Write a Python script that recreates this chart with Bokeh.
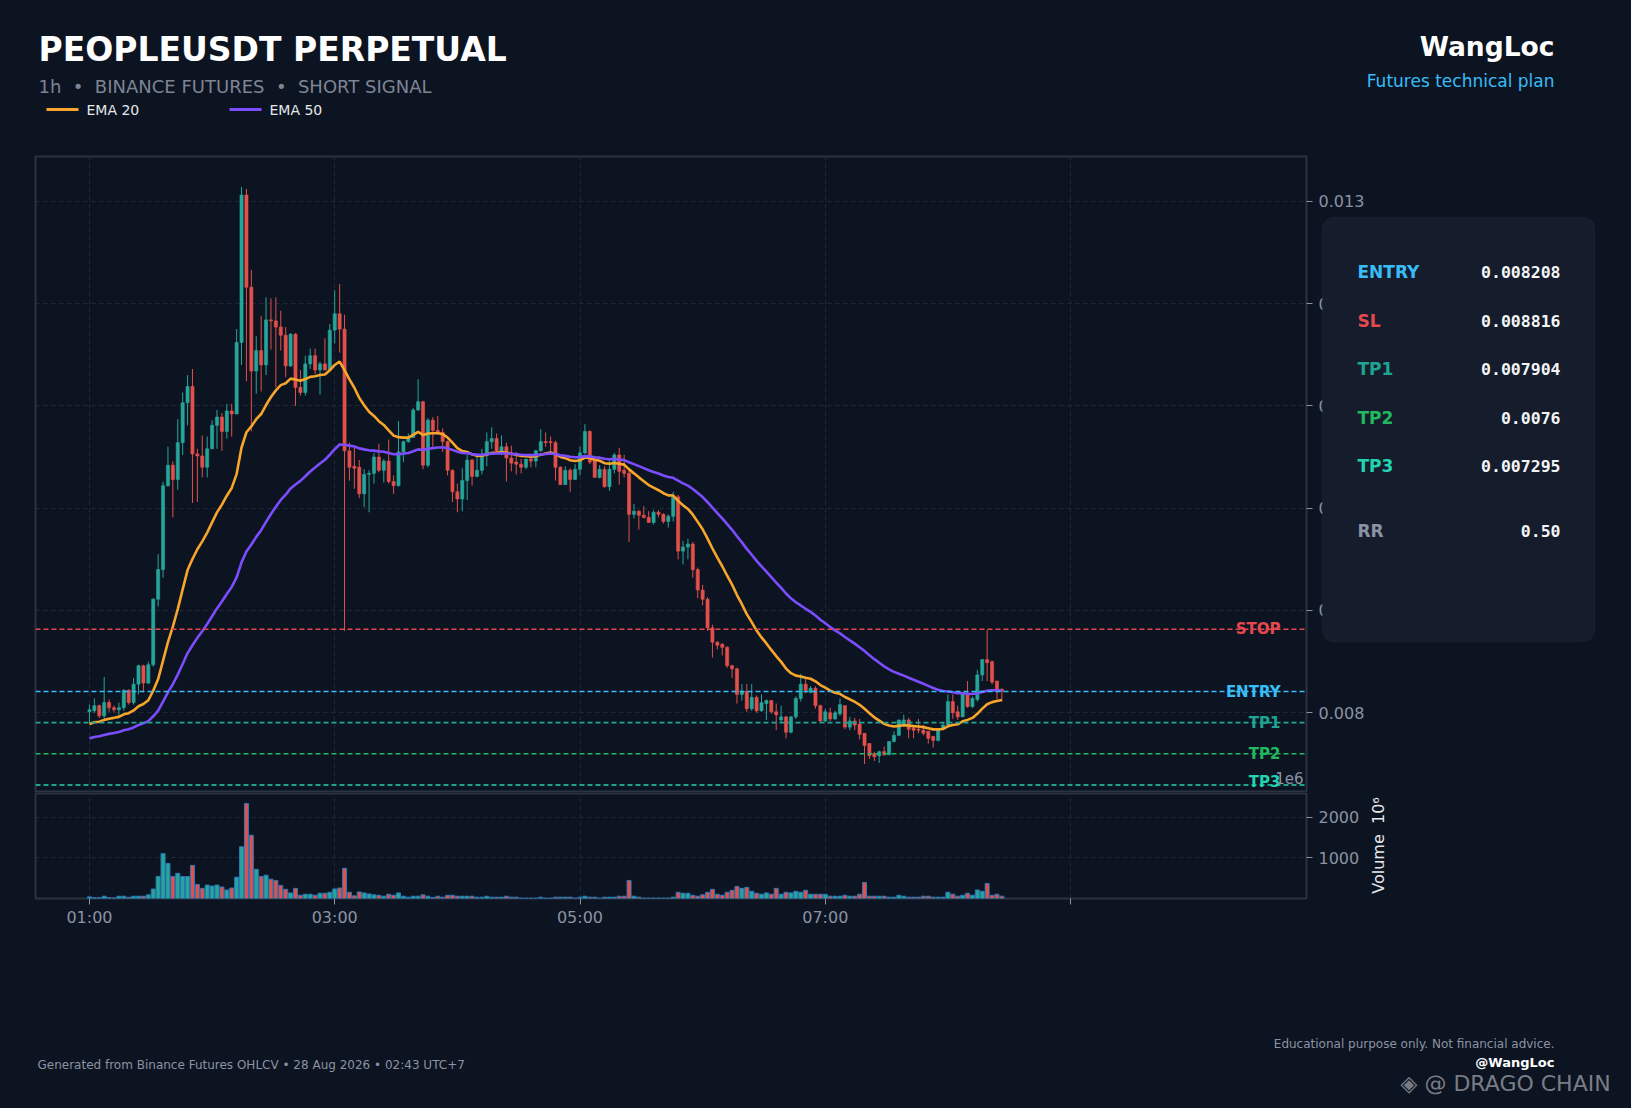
import numpy as np
from bokeh.plotting import figure
from bokeh.layouts import column, row
from bokeh.models import (Range1d, FixedTicker, NumeralTickFormatter, Span, Label,
                          BoxAnnotation, ColumnDataSource, Grid)
from bokeh.embed import file_html
from bokeh.resources import INLINE
from bokeh.core.properties import value

# ---------------- data ----------------
opens = [
    .00801, .00802, .00807, .00797, .00810, .00805, .00803, .00805, .00822, .00810,
    .00828, .00846, .00829, .00847, .00911, .00940, .01022, .01042, .01028, .01064,
    .01103, .01119, .01053, .01051, .01040, .01058, .01081, .01089, .01075, .01095,
    .01092, .01162, .01306, .01216, .01134, .01154, .01140, .01184, .01183, .01177,
    .01169, .01139, .01170, .01118, .01113, .01141, .01149, .01135, .01141, .01135,
    .01174, .01190, .01175, .01056, .01041, .01040, .01014, .01033, .01034, .01050,
    .01037, .01046, .01026, .01022, .01055, .01065, .01069, .01096, .01104, .01042,
    .01086, .01076, .01074, .01065, .01037, .01016, .01009, .01027, .01047, .01031,
    .01037, .01052, .01065, .01068, .01056, .01060, .01049, .01045, .01043, .01040,
    .01048, .01046, .01056, .01065, .01065, .01064, .01040, .01023, .01037, .01028,
    .01038, .01054, .01075, .01048, .01030, .01038, .01021, .01038, .01052, .01037,
    .01034, .00994, .00997, .00993, .00991, .00986, .00996, .00994, .00987, .00992,
    .01011, .00958, .00962, .00965, .00940, .00920, .00911, .00883, .00869, .00867,
    .00864, .00846, .00843, .00818, .00821, .00804, .00815, .00802, .00809, .00812,
    .00801, .00793, .00796, .00781, .00796, .00814, .00828, .00820, .00824, .00807,
    .00792, .00800, .00794, .00799, .00807, .00786, .00792, .00789, .00780, .00770,
    .00760, .00758, .00762, .00759, .00772, .00778, .00789, .00793, .00785, .00784,
    .00783, .00782, .00777, .00773, .00784, .00788, .00811, .00801, .00796, .00819,
    .00806, .00813, .00837, .00852, .00850, .00831, .00823,
]
closes = [
    .00803, .00807, .00797, .00810, .00805, .00803, .00805, .00822, .00810, .00828,
    .00846, .00829, .00847, .00911, .00940, .01022, .01042, .01028, .01064, .01103,
    .01119, .01053, .01051, .01040, .01058, .01081, .01089, .01075, .01095, .01092,
    .01162, .01306, .01216, .01134, .01154, .01140, .01184, .01183, .01177, .01169,
    .01139, .01170, .01118, .01113, .01141, .01149, .01135, .01141, .01135, .01174,
    .01190, .01175, .01056, .01040, .01039, .01014, .01033, .01034, .01050, .01037,
    .01046, .01026, .01022, .01055, .01065, .01069, .01096, .01104, .01042, .01086,
    .01076, .01073, .01065, .01037, .01016, .01009, .01027, .01047, .01031, .01037,
    .01052, .01065, .01068, .01056, .01060, .01049, .01044, .01043, .01040, .01048,
    .01046, .01056, .01065, .01064, .01064, .01040, .01023, .01037, .01028, .01038,
    .01054, .01075, .01045, .01030, .01038, .01021, .01038, .01052, .01036, .01034,
    .00994, .00997, .00993, .00991, .00986, .00996, .00994, .00987, .00992, .01011,
    .00958, .00962, .00965, .00940, .00920, .00911, .00883, .00869, .00866, .00864,
    .00846, .00843, .00818, .00821, .00804, .00815, .00802, .00810, .00812, .00801,
    .00798, .00796, .00781, .00796, .00814, .00828, .00822, .00824, .00807, .00792,
    .00801, .00794, .00800, .00808, .00786, .00792, .00788, .00779, .00768, .00758,
    .00757, .00762, .00759, .00772, .00778, .00793, .00793, .00784, .00783, .00783,
    .00780, .00775, .00773, .00784, .00788, .00811, .00800, .00796, .00819, .00806,
    .00814, .00837, .00852, .00849, .00830, .00822, .00821,
]
highs = [
    .00808, .00814, .00808, .00835, .00813, .00807, .00810, .00823, .00823, .00834,
    .00847, .00847, .00850, .00912, .00955, .01026, .01060, .01046, .01087, .01113,
    .01130, .01136, .01058, .01071, .01070, .01086, .01096, .01093, .01102, .01102,
    .01175, .01314, .01312, .01233, .01168, .01188, .01206, .01205, .01206, .01193,
    .01177, .01171, .01171, .01135, .01149, .01156, .01156, .01143, .01166, .01180,
    .01213, .01219, .01189, .01064, .01059, .01047, .01038, .01037, .01054, .01063,
    .01048, .01067, .01032, .01085, .01066, .01073, .01098, .01126, .01105, .01088,
    .01089, .01090, .01078, .01066, .01038, .01024, .01039, .01052, .01048, .01051,
    .01058, .01074, .01079, .01073, .01071, .01064, .01061, .01055, .01048, .01048,
    .01052, .01057, .01077, .01074, .01070, .01066, .01041, .01041, .01039, .01043,
    .01060, .01082, .01076, .01050, .01042, .01041, .01048, .01054, .01059, .01052,
    .01039, .01004, .00998, .01002, .00997, .00998, .00998, .00995, .00994, .01016,
    .01013, .00968, .00970, .00967, .00942, .00925, .00913, .00886, .00870, .00868,
    .00865, .00847, .00844, .00828, .00828, .00828, .00817, .00818, .00813, .00812,
    .00809, .00807, .00797, .00797, .00816, .00838, .00835, .00826, .00826, .00808,
    .00804, .00805, .00802, .00814, .00807, .00796, .00795, .00794, .00780, .00770,
    .00762, .00763, .00767, .00772, .00782, .00793, .00798, .00795, .00788, .00794,
    .00788, .00782, .00777, .00784, .00790, .00818, .00818, .00807, .00819, .00831,
    .00816, .00842, .00852, .00881, .00851, .00831, .00824,
]
lows = [
    .00790, .00800, .00795, .00795, .00801, .00800, .00797, .00802, .00808, .00808,
    .00818, .00820, .00828, .00845, .00904, .00932, .01021, .00991, .01018, .01052,
    .01081, .01005, .01006, .01030, .01030, .01058, .01058, .01056, .01068, .01070,
    .01092, .01140, .01124, .01075, .01112, .01114, .01130, .01155, .01118, .01154,
    .01128, .01138, .01100, .01110, .01110, .01136, .01131, .01111, .01135, .01135,
    .01161, .01152, .00880, .01027, .01019, .01010, .01001, .00996, .01024, .01035,
    .01025, .01024, .01014, .01021, .01045, .01064, .01069, .01095, .01038, .01040,
    .01060, .01073, .01055, .01032, .01006, .00996, .00997, .01008, .01022, .01030,
    .01033, .01041, .01058, .01053, .01052, .01026, .01036, .01033, .01034, .01038,
    .01040, .01040, .01055, .01060, .01055, .01027, .01023, .01023, .01016, .01028,
    .01032, .01053, .01043, .01030, .01029, .01020, .01017, .01034, .01023, .01030,
    .00967, .00990, .00979, .00990, .00986, .00984, .00991, .00985, .00981, .00987,
    .00950, .00945, .00950, .00932, .00912, .00905, .00880, .00854, .00862, .00856,
    .00844, .00834, .00809, .00812, .00801, .00802, .00800, .00801, .00793, .00799,
    .00783, .00791, .00775, .00780, .00794, .00811, .00819, .00819, .00804, .00791,
    .00791, .00792, .00793, .00797, .00784, .00783, .00783, .00774, .00750, .00755,
    .00753, .00751, .00758, .00759, .00771, .00777, .00788, .00775, .00775, .00780,
    .00778, .00770, .00766, .00772, .00783, .00788, .00794, .00793, .00796, .00805,
    .00805, .00811, .00831, .00831, .00828, .00813, .00811,
]
volumes = [  # x 10^6
    40, 20, 20, 56, 25, 15, 56, 56, 30, 56,
    56, 56, 90, 234, 540, 1105, 863, 540, 620, 540,
    540, 815, 347, 250, 330, 306, 330, 282, 210, 258,
    524, 1274, 2339, 1556, 718, 540, 573, 476, 444, 323,
    226, 137, 250, 80, 105, 105, 80, 129, 129, 153,
    234, 258, 742, 153, 65, 161, 137, 113, 90, 80,
    56, 105, 80, 137, 56, 32, 56, 56, 90, 56,
    24, 56, 32, 80, 80, 56, 56, 56, 56, 32,
    32, 56, 32, 32, 32, 56, 32, 32, 8, 8,
    8, 8, 32, 8, 8, 32, 32, 32, 32, 8,
    32, 56, 32, 32, 8, 32, 32, 32, 56, 56,
    444, 56, 32, 8, 8, 8, 8, 8, 8, 32,
    153, 129, 129, 80, 56, 90, 153, 226, 105, 80,
    153, 202, 298, 250, 274, 177, 129, 105, 137, 105,
    250, 105, 153, 137, 177, 153, 202, 105, 105, 105,
    105, 56, 56, 56, 80, 56, 56, 105, 395, 56,
    56, 56, 56, 32, 32, 80, 56, 32, 32, 32,
    56, 56, 32, 32, 32, 153, 105, 56, 80, 129,
    80, 210, 177, 371, 80, 105, 56,
]
EMA20_START = 0.00789   # EMA values at the first candle
EMA50_START = 0.00775

time_ticks = [0, 50, 100, 150, 200]
time_labels = ["01:00", "03:00", "05:00", "07:00", ""]
price_ticks = [0.008, 0.009, 0.010, 0.011, 0.012, 0.013]
vol_ticks = [1000, 2000]

level_names = ["STOP", "ENTRY", "TP1", "TP2", "TP3"]
level_values = [0.008816, 0.008208, 0.007904, 0.0076, 0.007295]
level_colors = ["#e5484d", "#38bdf8", "#1fa393", "#22b85f", "#22d3b0"]

panel_labels = ["ENTRY", "SL", "TP1", "TP2", "TP3", "RR"]
panel_values = ["0.008208", "0.008816", "0.007904", "0.0076", "0.007295", "0.50"]
panel_colors = ["#38bdf8", "#e5484d", "#1fa393", "#22b85f", "#22d3b0", "#8a93a3"]

NB = "\u00a0"
TITLE = "PEOPLEUSDT PERPETUAL"
SUBTITLE = "1h" + NB * 2 + "\u2022" + NB * 2 + "BINANCE FUTURES" + NB * 2 + "\u2022" + NB * 2 + "SHORT SIGNAL"
VOLUME_LABEL = "Volume" + NB * 2 + "10\u2076"

# ---------------- style ----------------
BG = "#0d1421"
FRAME = "#2b3342"
GRID = "#222a38"
GRAY = "#8a93a3"
UP = "#26a69a"
DOWN = "#e2504c"
ORANGE = "#f7a62b"
PURPLE = "#7c4dff"
FONT = "DejaVu Sans"
MONO = "DejaVu Sans Mono"
W = 1630

n = len(closes)
idx = np.arange(n)
o = np.array(opens); c = np.array(closes)
colors = [UP if cc >= oo else DOWN for oo, cc in zip(o, c)]

ema20 = [EMA20_START]
ema50 = [EMA50_START]
for cl in closes[1:]:
    ema20.append(ema20[-1] + (cl - ema20[-1]) * 2.0 / 21.0)
    ema50.append(ema50[-1] + (cl - ema50[-1]) * 2.0 / 51.0)

src = ColumnDataSource(dict(x=idx, top=np.maximum(o, c), bottom=np.minimum(o, c),
                            high=highs, low=lows, color=colors, vol=volumes))


def no_align(fig):
    try:
        fig.frame_align = False
    except Exception:
        pass


def style_axis(ax, standoff=6):
    ax.axis_line_color = None
    ax.major_tick_line_color = GRAY
    ax.major_tick_out = 6
    ax.major_tick_in = 0
    ax.minor_tick_line_color = None
    ax.major_label_text_color = GRAY
    ax.major_label_text_font = FONT
    ax.major_label_text_font_size = "16px"
    ax.major_label_standoff = standoff


def add_grids(fig, yticks):
    for g in fig.grid:
        g.visible = False
    fig.add_layout(Grid(dimension=0, ticker=FixedTicker(ticks=time_ticks), grid_line_color=GRID,
                        grid_line_dash="4 4", grid_line_width=1))
    fig.add_layout(Grid(dimension=1, ticker=FixedTicker(ticks=yticks), grid_line_color=GRID,
                        grid_line_dash="4 4", grid_line_width=1))


def blank(width, height, x0, x1, y_top, y_bottom, transparent=False):
    fig = figure(width=width, height=height, x_range=Range1d(x0, x1),
                 y_range=Range1d(y_bottom, y_top), output_backend="svg", toolbar_location=None,
                 x_axis_location=None, y_axis_location=None, min_border=0,
                 background_fill_color=BG, border_fill_color=BG, outline_line_color=None)
    if transparent:
        fig.background_fill_alpha = 0
        fig.border_fill_alpha = 0
    for g in fig.grid:
        g.visible = False
    no_align(fig)
    return fig


# ---------------- header (coordinates = page pixels) ----------------
h = blank(W, 154, 0, W, 0, 154)
h.text(x=[38], y=[49], text=[TITLE], text_font=value(FONT), text_font_style="bold",
       text_font_size="33px", text_color="#ffffff", text_baseline="middle")
h.text(x=[38], y=[86], text=[SUBTITLE], text_font=value(FONT), text_font_size="18px",
       text_color="#7d8595", text_baseline="middle")
h.line(x=[46, 78], y=[109, 109], line_color=ORANGE, line_width=3)
h.text(x=[86], y=[109], text=["EMA 20"], text_font=value(FONT), text_font_size="14px",
       text_color="#e5e7eb", text_baseline="middle")
h.line(x=[229, 261], y=[109, 109], line_color=PURPLE, line_width=3)
h.text(x=[269], y=[109], text=["EMA 50"], text_font=value(FONT), text_font_size="14px",
       text_color="#e5e7eb", text_baseline="middle")
h.text(x=[1554], y=[46], text=["WangLoc"], text_font=value(FONT), text_font_style="bold",
       text_font_size="26.5px", text_color="#ffffff", text_baseline="middle", text_align="right")
h.text(x=[1554], y=[80], text=["Futures technical plan"], text_font=value(FONT),
       text_font_size="17px", text_color="#38bdf8", text_baseline="middle", text_align="right")

# ---------------- price panel ----------------
p = figure(width=W, height=638, x_range=Range1d(-11.0, 248.1), y_range=Range1d(0.007221, 0.013437),
           output_backend="svg", toolbar_location=None, x_axis_location=None, y_axis_location="right",
           min_border_left=35, min_border_right=W - 35 - 1271, min_border_top=2, min_border_bottom=0,
           background_fill_color=BG, border_fill_color=BG, outline_line_color=FRAME,
           outline_line_width=2)
add_grids(p, price_ticks)
pa = p.yaxis[0]
pa.ticker = FixedTicker(ticks=price_ticks)
pa.formatter = NumeralTickFormatter(format="0.000")
style_axis(pa)

p.segment(x0="x", y0="low", x1="x", y1="high", line_color="color", line_width=1, source=src)
p.vbar(x="x", width=0.64, top="top", bottom="bottom", fill_color="color", line_color="color",
       line_width=0.6, source=src)
p.line(idx, ema20, line_color=ORANGE, line_width=2.6)
p.line(idx, ema50, line_color=PURPLE, line_width=2.6)

for name, lv, col in zip(level_names, level_values, level_colors):
    p.add_layout(Span(location=lv, dimension="width", line_color=col, line_dash="5 3",
                      line_width=1.6))
    p.add_layout(Label(x=248.1, y=lv, x_offset=-26, y_offset=(3 if name == "TP3" else 0),
                       text=name, text_align="right", text_baseline="middle", text_font=FONT,
                       text_font_style="bold", text_font_size="15px", text_color=col))
p.add_layout(Label(x=248.1, y=0.007329, x_offset=-3, y_offset=3, text="1e6", text_align="right",
                   text_baseline="middle", text_font=FONT, text_font_size="15px",
                   text_color=GRAY))

# ---------------- volume panel ----------------
v = figure(width=W, height=146, x_range=p.x_range, y_range=Range1d(0, 2585),
           output_backend="svg", toolbar_location=None, y_axis_location="right",
           min_border_left=35, min_border_right=W - 35 - 1271, min_border_top=1, min_border_bottom=40,
           background_fill_color=BG, border_fill_color=BG, outline_line_color=FRAME,
           outline_line_width=2)
add_grids(v, vol_ticks)
va = v.yaxis[0]
va.ticker = FixedTicker(ticks=vol_ticks)
style_axis(va)
xa = v.xaxis[0]
xa.ticker = FixedTicker(ticks=time_ticks)
xa.major_label_overrides = {t: lab for t, lab in zip(time_ticks, time_labels)}
style_axis(xa, standoff=3)
v.vbar(x="x", width=0.82, top="vol", bottom=0, fill_color="color", line_color="#2c79b8",
       line_width=1, source=src)

# ---------------- overlay at the right: info panel + volume axis title (page pixels) ----------
SIDE_X0 = 1316
SIDE_Y1 = 902
side = blank(W - SIDE_X0, SIDE_Y1 - 154, SIDE_X0, W, 154, SIDE_Y1, transparent=True)
side.styles = {"margin-left": "-%dpx" % (W - SIDE_X0)}
side.add_layout(BoxAnnotation(left=1322, right=1594, top=217, bottom=641,
                              fill_color="#151c2b", fill_alpha=1.0, line_color="#283143",
                              line_width=1.5, border_radius=12, level="underlay"))
row_y = [271, 320, 368, 417, 465, 530]
side.text(x=[1357] * len(panel_labels), y=row_y, text=panel_labels, text_color=panel_colors,
          text_font=value(FONT), text_font_style="bold", text_font_size="17px",
          text_baseline="middle", text_align="left")
side.text(x=[1560] * len(panel_values), y=row_y, text=panel_values, text_color="#f3f4f6",
          text_font=value(MONO), text_font_style="bold", text_font_size="16.5px",
          text_baseline="middle", text_align="right")
side.text(x=[1378], y=[845], text=[VOLUME_LABEL], angle=np.pi / 2, text_color="#e5e7eb",
          text_font=value(FONT), text_font_size="16px", text_baseline="middle",
          text_align="center")

# ---------------- footer ----------------
f = blank(W, 168, 0, W, 938, 1106)
f.text(x=[1554], y=[1043], text=["Educational purpose only. Not financial advice."],
       text_font=value(FONT), text_font_size="12px", text_color=GRAY, text_baseline="middle",
       text_align="right")
f.text(x=[37], y=[1064], text=["Generated from Binance Futures OHLCV \u2022 28 Aug 2026 \u2022 02:43 UTC+7"],
       text_font=value(FONT), text_font_size="12px", text_color=GRAY, text_baseline="middle")
f.text(x=[1554], y=[1062], text=["@WangLoc"], text_font=value(FONT), text_font_style="bold",
       text_font_size="13px", text_color="#ffffff", text_baseline="middle", text_align="right")
f.text(x=[1400], y=[1083], text=["\u25c8 @ DRAGO CHAIN"], text_font=value(FONT),
       text_font_size="22px", text_color="#d5d9df", text_alpha=0.55, text_baseline="middle")

layout = column(h, row(column(p, v, spacing=0), side, spacing=0), f, spacing=0)
html = file_html(layout, INLINE, title="PEOPLEUSDT PERPETUAL")
html = html.replace("</head>",
                    "<style>html,body{background:%s;overflow:hidden;}</style></head>" % BG, 1)
open("out.html", "w").write(html)
